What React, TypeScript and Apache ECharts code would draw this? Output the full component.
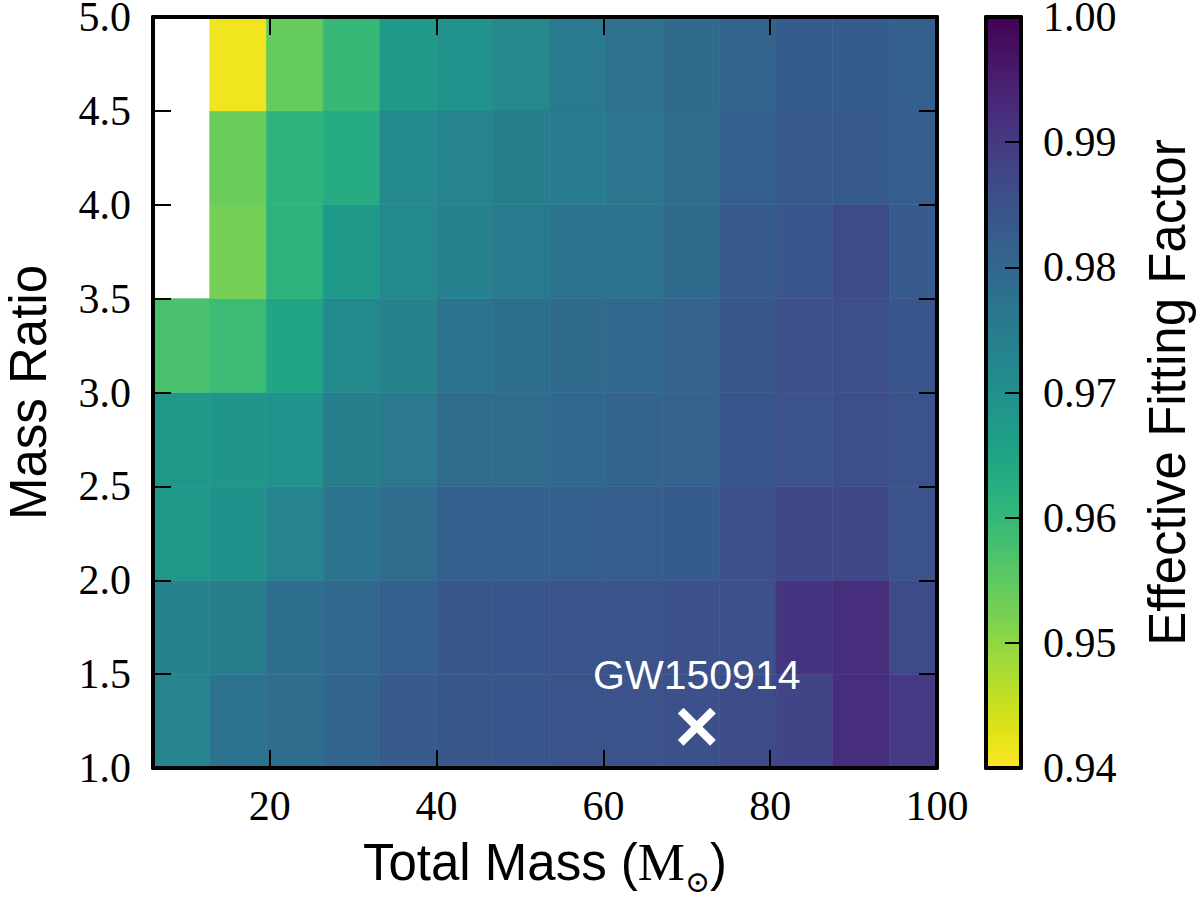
import React, { useEffect, useRef } from 'react';
import * as echarts from 'echarts';

// Bin edges of the grid
const massEdges = [6, 12.8, 19.6, 26.4, 33.2, 40.0, 46.7, 53.5, 60.3, 67.1, 73.9, 80.7, 87.5, 94.3, 100];
const ratioEdges = [1.0, 1.5, 2.0, 2.5, 3.0, 3.5, 4.0, 4.5, 5.0];

// Effective fitting factor per mass bin, one array per mass-ratio row (null = no data)
const ffRatio1_0 = [0.9730, 0.9775, 0.9787, 0.9805, 0.9829, 0.9835, 0.9841, 0.9847, 0.9850, 0.9853, 0.9862, 0.9880, 0.9922, 0.9901];
const ffRatio1_5 = [0.9733, 0.9742, 0.9784, 0.9799, 0.9820, 0.9835, 0.9841, 0.9847, 0.9847, 0.9853, 0.9853, 0.9910, 0.9922, 0.9865];
const ffRatio2_0 = [0.9682, 0.9700, 0.9730, 0.9772, 0.9790, 0.9817, 0.9817, 0.9820, 0.9823, 0.9826, 0.9853, 0.9871, 0.9871, 0.9850];
const ffRatio2_5 = [0.9682, 0.9685, 0.9697, 0.9742, 0.9757, 0.9787, 0.9790, 0.9799, 0.9808, 0.9814, 0.9841, 0.9850, 0.9856, 0.9850];
const ffRatio3_0 = [0.9574, 0.9592, 0.9646, 0.9718, 0.9733, 0.9772, 0.9784, 0.9793, 0.9799, 0.9811, 0.9835, 0.9856, 0.9856, 0.9844];
const ffRatio3_5 = [null, 0.9526, 0.9613, 0.9679, 0.9718, 0.9736, 0.9754, 0.9769, 0.9775, 0.9793, 0.9829, 0.9838, 0.9862, 0.9829];
const ffRatio4_0 = [null, 0.9538, 0.9613, 0.9634, 0.9718, 0.9730, 0.9742, 0.9751, 0.9766, 0.9787, 0.9820, 0.9832, 0.9832, 0.9823];
const ffRatio4_5 = [null, 0.9412, 0.9541, 0.9598, 0.9676, 0.9697, 0.9721, 0.9754, 0.9778, 0.9793, 0.9808, 0.9826, 0.9826, 0.9820];
const fittingFactorRows = [ffRatio1_0, ffRatio1_5, ffRatio2_0, ffRatio2_5, ffRatio3_0, ffRatio3_5, ffRatio4_0, ffRatio4_5];

const massTicks = [20, 40, 60, 80, 100];
const ffMin = 0.94;
const ffMax = 1.0;

// GW150914 marker
const eventName = 'GW150914';
const eventMass = 71.2;
const eventRatio = 1.22;

// viridis colormap, reversed (yellow at low values, purple at high)
const viridis = [
  '#440154', '#471365', '#482475', '#463480', '#414487', '#3b528b', '#355f8d',
  '#2f6c8e', '#2a788e', '#25848e', '#21918c', '#1e9c89', '#22a884', '#2fb47c',
  '#44bf70', '#5ec962', '#7ad151', '#9bd93c', '#bddf26', '#dfe318', '#fde725',
];
const viridisLowToHigh = [...viridis].reverse();

const SERIF = '"Liberation Serif", "Times New Roman", serif';
const SANS = '"Liberation Sans", Arial, Helvetica, sans-serif';

export default function App() {
  const ref = useRef<HTMLDivElement>(null);

  useEffect(() => {
    if (!ref.current) return;
    const chart = echarts.init(ref.current, null, { renderer: 'svg' });

    const cells: number[][] = [];
    fittingFactorRows.forEach((row, j) => {
      row.forEach((v, i) => {
        if (v !== null && v !== undefined) {
          cells.push([massEdges[i], massEdges[i + 1], ratioEdges[j], ratioEdges[j + 1], v]);
        }
      });
    });

    const tick = { show: true, inside: true, length: 18, lineStyle: { color: '#000', width: 2 } };
    const line = { show: true, onZero: false, lineStyle: { color: '#000', width: 4 } };

    const option: any = {
      animation: false,
      backgroundColor: '#ffffff',
      grid: [
        { left: 153, top: 17, width: 784, height: 751, containLabel: false, outerBoundsMode: 'none' },
        { left: 986, top: 17, width: 35, height: 751, containLabel: false, outerBoundsMode: 'none' },
      ],
      xAxis: [
        {
          type: 'value', gridIndex: 0, position: 'bottom', min: 6, max: 100, z: 10,
          axisLine: line,
          axisTick: { ...tick, customValues: massTicks },
          axisLabel: {
            customValues: massTicks, color: '#000', fontFamily: SERIF, fontSize: 42, lineHeight: 32, margin: 22,
          },
          splitLine: { show: false },
          name: '{a|Total Mass (}{m|M}{s|⊙}{a|)}',
          nameLocation: 'middle',
          nameGap: 60,
          nameTextStyle: {
            color: '#000',
            rich: {
              a: { fontFamily: SANS, fontSize: 51, lineHeight: 68, color: '#000' },
              m: { fontFamily: SERIF, fontSize: 53, lineHeight: 68, color: '#000' },
              s: { fontFamily: '"DejaVu Serif", serif', fontSize: 30, lineHeight: 28, verticalAlign: 'bottom', color: '#000' },
            },
          },
        },
        {
          type: 'value', gridIndex: 0, position: 'top', min: 6, max: 100, z: 10,
          axisLine: line,
          axisTick: { ...tick, customValues: massTicks },
          axisLabel: { show: false },
          splitLine: { show: false },
        },
        {
          type: 'value', gridIndex: 1, position: 'bottom', min: 0, max: 1, z: 10,
          axisLine: line, axisTick: { show: false }, axisLabel: { show: false }, splitLine: { show: false },
        },
        {
          type: 'value', gridIndex: 1, position: 'top', min: 0, max: 1, z: 10,
          axisLine: line, axisTick: { show: false }, axisLabel: { show: false }, splitLine: { show: false },
        },
      ],
      yAxis: [
        {
          type: 'value', gridIndex: 0, position: 'left', min: 1, max: 5, interval: 0.5, z: 10,
          axisLine: line,
          axisTick: tick,
          axisLabel: {
            color: '#000', fontFamily: SERIF, fontSize: 42, lineHeight: 28, margin: 22,
            formatter: (v: number) => v.toFixed(1),
          },
          splitLine: { show: false },
          name: 'Mass Ratio',
          nameLocation: 'middle',
          nameGap: 105,
          nameTextStyle: { color: '#000', fontFamily: SANS, fontSize: 51, lineHeight: 40 },
        },
        {
          type: 'value', gridIndex: 0, position: 'right', min: 1, max: 5, interval: 0.5, z: 10,
          axisLine: line, axisTick: tick, axisLabel: { show: false }, splitLine: { show: false },
        },
        {
          type: 'value', gridIndex: 1, position: 'left', min: ffMin, max: ffMax, z: 10,
          axisLine: line, axisTick: { show: false }, axisLabel: { show: false }, splitLine: { show: false },
        },
        {
          type: 'value', gridIndex: 1, position: 'right', min: ffMin, max: ffMax, interval: 0.01, z: 10,
          axisLine: line,
          axisTick: { show: true, inside: true, length: 16, lineStyle: { color: '#000', width: 2 } },
          axisLabel: {
            color: '#000', fontFamily: SERIF, fontSize: 42, lineHeight: 28, margin: 22,
            formatter: (v: number) => v.toFixed(2),
          },
          splitLine: { show: false },
          name: 'Effective Fitting Factor',
          nameLocation: 'middle',
          nameRotate: 90,
          nameGap: 124,
          nameTextStyle: { color: '#000', fontFamily: SANS, fontSize: 51, lineHeight: 44 },
        },
      ],
      visualMap: {
        type: 'continuous',
        min: ffMin,
        max: ffMax,
        dimension: 4,
        seriesIndex: 0,
        calculable: false,
        hoverLink: false,
        realtime: false,
        orient: 'vertical',
        left: 986,
        top: 17,
        padding: 0,
        itemWidth: 35,
        itemHeight: 751,
        text: null,
        inRange: { color: viridisLowToHigh },
        textStyle: { color: 'transparent' },
      },
      series: [
        {
          type: 'custom',
          xAxisIndex: 0,
          yAxisIndex: 0,
          clip: true,
          silent: true,
          encode: { x: [0, 1], y: [2, 3] },
          data: cells,
          renderItem: (params: any, api: any) => {
            const p0 = api.coord([api.value(0), api.value(3)]);
            const p1 = api.coord([api.value(1), api.value(2)]);
            const color = api.visual('color');
            return {
              type: 'rect',
              shape: { x: p0[0], y: p0[1], width: p1[0] - p0[0], height: p1[1] - p0[1] },
              style: { fill: color, stroke: color, lineWidth: 0.6 },
            };
          },
          z: 2,
        },
        {
          type: 'scatter',
          xAxisIndex: 0,
          yAxisIndex: 0,
          silent: true,
          z: 5,
          data: [[eventMass, eventRatio]],
          symbol: 'path://M3,0 L10,7 L17,0 L20,3 L13,10 L20,17 L17,20 L10,13 L3,20 L0,17 L7,10 L0,3 Z',
          symbolSize: 38,
          itemStyle: { color: '#ffffff', opacity: 1 },
          label: {
            show: true,
            position: 'top',
            distance: 12,
            formatter: eventName,
            color: '#ffffff',
            fontFamily: SANS,
            fontSize: 41,
          },
        },
      ],
    };

    chart.setOption(option);
    return () => chart.dispose();
  }, []);

  return (
    <div
      ref={ref}
      style={{ position: 'fixed', left: 0, top: 0, width: 1200, height: 897, background: '#fff' }}
    />
  );
}
